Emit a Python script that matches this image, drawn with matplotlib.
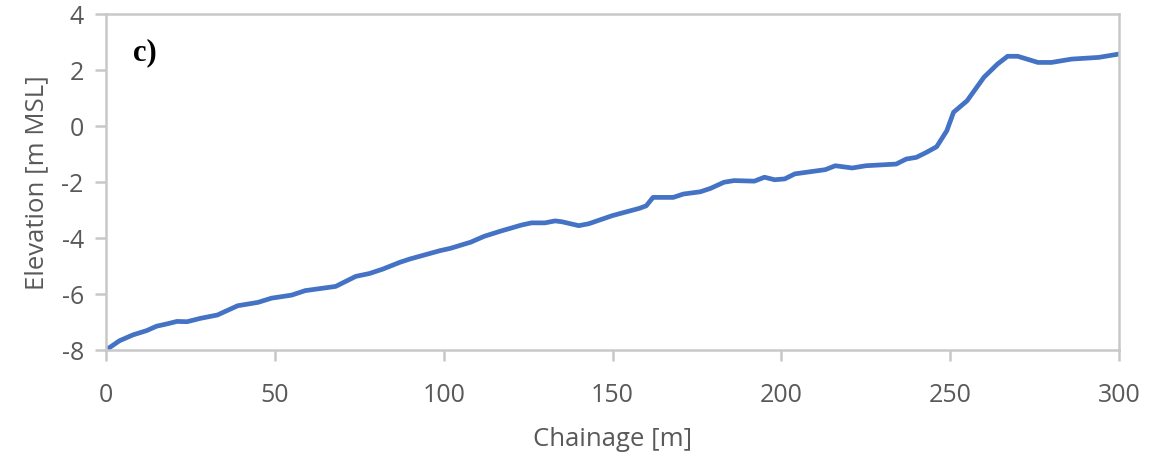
import numpy as np
import matplotlib.pyplot as plt

plt.rcParams['axes.unicode_minus'] = False

# longitudinal profile: chainage [m] vs bed elevation [m MSL]
chainage = [0, 4, 8, 12, 15, 18, 21, 24, 28, 33, 39, 45, 49, 55, 59, 68, 74, 78,
            82, 87, 90, 93, 99, 102, 108, 112, 117, 123, 126, 130, 133, 135, 140,
            143, 150, 158, 160, 162, 168, 171, 176, 179, 183, 186, 192, 195, 198,
            201, 204, 213, 216, 221, 225, 234, 237, 240, 243, 246, 249, 251, 255,
            260, 264, 267, 270, 276, 280, 286, 294, 300]
elevation = [-8.0, -7.67, -7.46, -7.31, -7.15, -7.07, -6.98, -6.99, -6.87, -6.75,
             -6.42, -6.30, -6.15, -6.04, -5.88, -5.73, -5.37, -5.27, -5.11, -4.87,
             -4.75, -4.65, -4.45, -4.37, -4.15, -3.94, -3.75, -3.54, -3.46, -3.46,
             -3.39, -3.42, -3.56, -3.49, -3.20, -2.94, -2.85, -2.55, -2.55, -2.43,
             -2.35, -2.23, -2.01, -1.95, -1.97, -1.83, -1.92, -1.89, -1.71, -1.56,
             -1.42, -1.50, -1.42, -1.36, -1.18, -1.12, -0.94, -0.74, -0.17, 0.49,
             0.90, 1.74, 2.21, 2.49, 2.49, 2.27, 2.27, 2.39, 2.45, 2.57]

xticks = [0, 50, 100, 150, 200, 250, 300]
yticks = [-8, -6, -4, -2, 0, 2, 4]

grey = '#595959'
spine = '#C8C8C8'

fig = plt.figure(figsize=(11.51, 4.6), dpi=100)
ax = fig.add_axes([0.0921, 0.237, 0.8801, 0.7304])

ax.plot(chainage, elevation, color='#4472C4', lw=3.4, solid_joinstyle='round')

ax.set_xlim(0, 300)
ax.set_ylim(-8, 4)
ax.set_xticks(xticks)
ax.set_yticks(yticks)

for s in ax.spines.values():
    s.set_color(spine)
    s.set_linewidth(1.8)

ax.tick_params(axis='both', direction='out', length=8, width=1.8, color=spine,
               labelcolor=grey, labelsize=18)
ax.tick_params(axis='x', pad=15)
ax.tick_params(axis='y', pad=8)
for lab in ax.get_xticklabels() + ax.get_yticklabels():
    lab.set_family('Open Sans')

ax.set_xlabel('Chainage [m]', fontsize=18.5, color=grey, family='Open Sans', labelpad=14)
ax.set_ylabel('Elevation [m MSL]', fontsize=18.5, color=grey, family='Open Sans', labelpad=9)

ax.text(0.027, 0.93, 'c)', transform=ax.transAxes, fontsize=22, fontweight='bold',
        family='Liberation Serif', va='top', ha='left')

fig.savefig('out.png', dpi=100)
